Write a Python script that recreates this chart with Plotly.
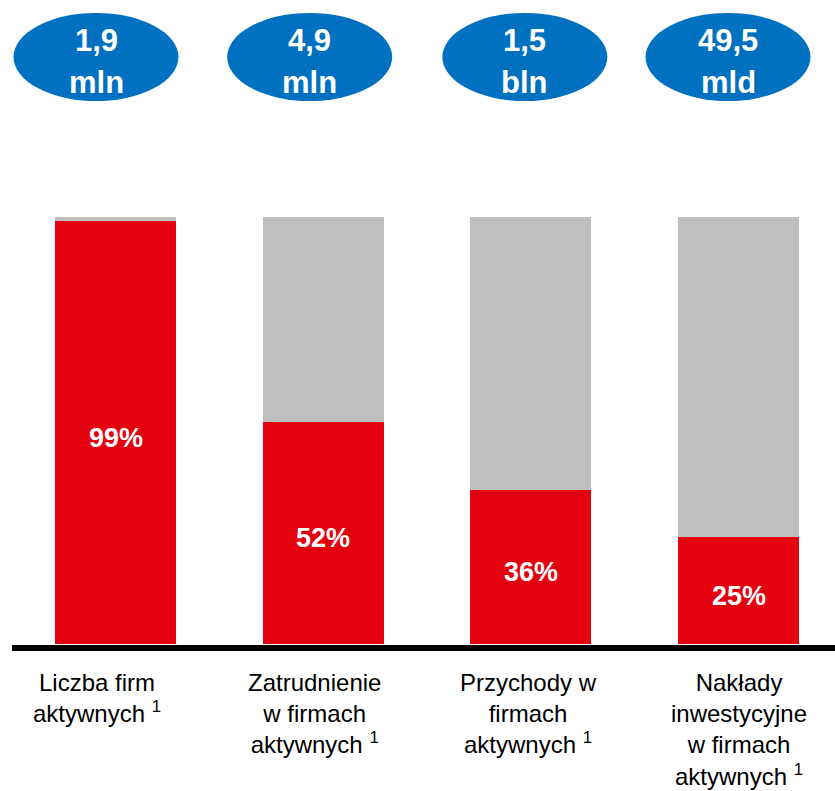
import plotly.graph_objects as go

# ---- data ----
categories = ["Liczba firm", "Zatrudnienie", "Przychody", "Nakłady"]
share_pct = [99, 52, 36, 25]
totals_value = ["1,9", "4,9", "1,5", "49,5"]
totals_unit = ["mln", "mln", "bln", "mld"]
category_labels = [
    "Liczba firm<br>aktywnych <sup>1</sup>",
    "Zatrudnienie<br>w firmach<br>aktywnych <sup>1</sup>",
    "Przychody w<br>firmach<br>aktywnych <sup>1</sup>",
    "Nakłady<br>inwestycyjne<br>w firmach<br>aktywnych <sup>1</sup>",
]

# ---- styling / layout constants ----
W, H = 835, 791
X0_PX, STEP_PX = 115.5, 207.67      # pixel centre of first bar, spacing
BASE_PX, UNIT_PX = 644.0, 427.0     # pixel of 0%, pixels per 100%
RED, GRAY, BLUE = "#E3000F", "#BFBFBF", "#0070C0"
FONT = "Liberation Sans, Arial, sans-serif"

ellipse_dx_px = [-19.5, -13.5, -6, -10.5]
label_dx_px = [-18.5, -8.5, -2.5, 0.5]


def xd(px):
    return (px - X0_PX) / STEP_PX


def yd(py):
    return (BASE_PX - py) / UNIT_PX


idx = list(range(len(categories)))
red_vals = [p / 100 for p in share_pct]
gray_vals = [1 - v for v in red_vals]

fig = go.Figure()
fig.add_trace(go.Bar(
    x=idx, y=red_vals, marker=dict(color=RED, line=dict(width=0)),
    hoverinfo="skip",
))
fig.add_trace(go.Bar(
    x=idx, y=gray_vals, marker=dict(color=GRAY, line=dict(width=0)),
    hoverinfo="skip",
))

shapes = []
annotations = []
# baseline
shapes.append(dict(type="line", xref="x", yref="y",
                   x0=xd(12), x1=xd(W), y0=yd(648), y1=yd(648),
                   line=dict(color="black", width=6)))

for i in idx:
    # percentage label in the middle of the red segment
    annotations.append(dict(x=i, y=red_vals[i] / 2, xref="x", yref="y",
                            text=f"<b>{share_pct[i]}%</b>", showarrow=False,
                            xanchor="center", yanchor="middle", yshift=-5,
                            font=dict(color="white", size=27, family=FONT)))
    cx = i + ellipse_dx_px[i] / STEP_PX
    hw = 82.5 / STEP_PX
    shapes.append(dict(type="circle", xref="x", yref="y",
                       x0=cx - hw, x1=cx + hw, y0=yd(101), y1=yd(13),
                       fillcolor=BLUE, line=dict(width=0), layer="above"))
    annotations.append(dict(x=cx, y=yd(40), xref="x", yref="y",
                            text=f"<b>{totals_value[i]}</b>", showarrow=False,
                            xanchor="center", yanchor="middle",
                            font=dict(color="white", size=31, family=FONT)))
    annotations.append(dict(x=cx, y=yd(82), xref="x", yref="y",
                            text=f"<b>{totals_unit[i]}</b>", showarrow=False,
                            xanchor="center", yanchor="middle",
                            font=dict(color="white", size=31, family=FONT)))
    annotations.append(dict(x=i + label_dx_px[i] / STEP_PX, y=yd(667),
                            xref="x", yref="y", text=category_labels[i],
                            showarrow=False, xanchor="center", yanchor="top",
                            align="center",
                            font=dict(color="black", size=24, family=FONT)))

fig.update_layout(
    width=W, height=H, barmode="stack", bargap=1 - 121 / STEP_PX,
    margin=dict(l=0, r=0, t=0, b=0), showlegend=False,
    plot_bgcolor="white", paper_bgcolor="white",
    xaxis=dict(range=[xd(0), xd(W)], visible=False, fixedrange=True),
    yaxis=dict(range=[yd(H), yd(0)], visible=False, fixedrange=True),
    shapes=shapes, annotations=annotations,
)
fig.write_html("out.html", config={"displayModeBar": False},
               post_script="document.body.style.margin='0';")
